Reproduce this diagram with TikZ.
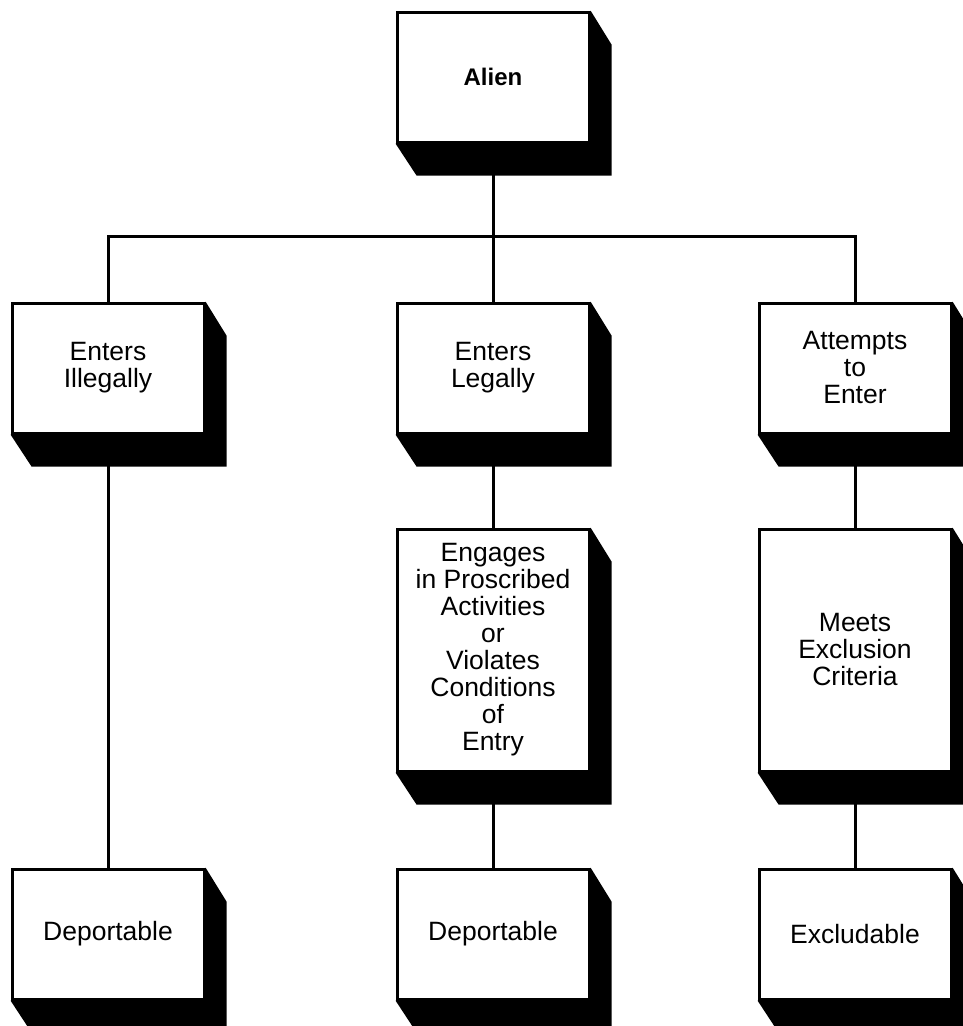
\documentclass[tikz,border=0pt]{standalone}
\usepackage{fontspec}
\setmainfont{Liberation Sans}
\tikzset{
  box/.style={draw, line width=3pt, fill=white, minimum width=192pt, minimum height=130pt,
    align=center, inner sep=0pt, font=\fontsize{26.5}{27}\selectfont},
  tallbox/.style={box, minimum height=242pt},
  conn/.style={line width=3pt},
}
\newcommand\extrude[1]{%
  \fill (#1.north east) -- ++(21,34) -- ([shift={(21,32)}]#1.south east)
    -- ([shift={(21,32)}]#1.south west) -- (#1.south west) -- (#1.south east) -- cycle;}
\begin{document}
\begin{tikzpicture}[x=1pt,y=-1pt]
\useasboundingbox (0,0) rectangle (963,1026);
\coordinate (bar) at (0,236);
\path (493,77) coordinate (pA) (108,368) coordinate (pI) (493,368) coordinate (pL) (855,368) coordinate (pT)
      (493,650) coordinate (pE) (855,650) coordinate (pM)
      (108,934) coordinate (pD1) (493,934) coordinate (pD2) (855,934) coordinate (pX);
\node[box, font=\fontsize{24}{27}\selectfont\bfseries] (alien) at (pA) {Alien};
\node[box] (ill) at (pI) {Enters\\Illegally};
\node[box] (leg) at (pL) {Enters\\Legally};
\node[box] (att) at (pT) {Attempts\\to\\Enter};
\node[tallbox] (eng) at (pE) {Engages\\in Proscribed\\Activities\\or\\Violates\\Conditions\\of\\Entry};
\node[tallbox] (meet) at (pM) {Meets\\Exclusion\\Criteria};
\node[box] (dep1) at (pD1) {Deportable};
\node[box] (dep2) at (pD2) {Deportable};
\node[box] (excl) at (pX) {Excludable};
% connectors
\draw[conn] (alien.south) -- (leg.north);
\draw[conn] (ill.north) -- (ill.north |- bar) -- (att.north |- bar) -- (att.north);
\draw[conn] (ill.south) -- (dep1.north);
\draw[conn] (leg.south) -- (eng.north);
\draw[conn] (eng.south) -- (dep2.north);
\draw[conn] (att.south) -- (meet.north);
\draw[conn] (meet.south) -- (excl.north);
% extrusions
\extrude{alien}
\extrude{ill}
\extrude{leg}
\extrude{att}
\extrude{eng}
\extrude{meet}
\extrude{dep1}
\extrude{dep2}
\extrude{excl}
\end{tikzpicture}
\end{document}
